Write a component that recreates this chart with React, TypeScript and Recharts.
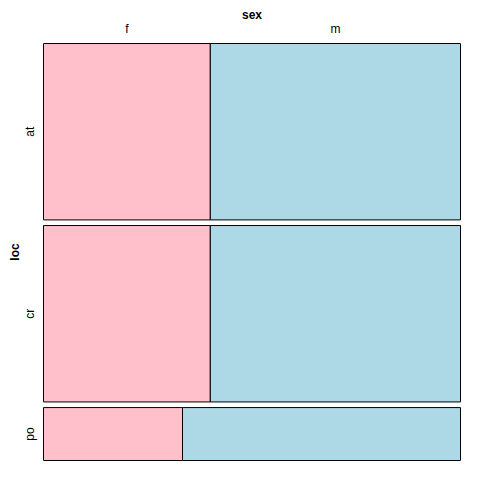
import { ComposedChart, XAxis, YAxis, ReferenceArea, Scatter } from "recharts";

// counts read from the mosaic: loc x sex
const locs = ["at", "cr", "po"];
const sexes = ["f", "m"];
const femaleCounts = [4, 4, 1];
const maleCounts = [6, 6, 2];
const sexColors = ["#FFC0CB", "#ADD8E6"];

const GAP = 0.0135; // spacing between loc rows, in plot fraction
const FONT = "'Liberation Sans', Arial, Helvetica, sans-serif";

type Cell = { key: string; x1: number; x2: number; y1: number; y2: number; fill: string; cx: number; cy: number };

const rowTotals = locs.map((_, i) => femaleCounts[i] + maleCounts[i]);
const grandTotal = rowTotals.reduce((a, b) => a + b, 0);
const usable = 1 - GAP * (locs.length - 1);

const cells: Cell[] = [];
const rowCenters: number[] = [];
let cursor = 0;
locs.forEach((loc, i) => {
  const h = (usable * rowTotals[i]) / grandTotal;
  const fShare = femaleCounts[i] / rowTotals[i];
  const cy = cursor + h / 2;
  cells.push({ key: `${loc}-f`, x1: 0, x2: fShare, y1: cursor, y2: cursor + h, fill: sexColors[0], cx: fShare / 2, cy });
  cells.push({ key: `${loc}-m`, x1: fShare, x2: 1, y1: cursor, y2: cursor + h, fill: sexColors[1], cx: (fShare + 1) / 2, cy });
  rowCenters.push(cy);
  cursor += h + GAP;
});

const firstShare = femaleCounts[0] / rowTotals[0];
const colCenters = [firstShare / 2, (firstShare + 1) / 2];

function SexTick(props: any) {
  const { x, y, index } = props;
  return (
    <text x={x} y={y - 14.5} textAnchor="middle" dominantBaseline="central" fontSize={12} fontFamily={FONT} fill="#000">
      {sexes[index]}
    </text>
  );
}

function LocTick(props: any) {
  const { x, y, index } = props;
  const tx = x - 13.5;
  return (
    <text
      x={tx}
      y={y}
      textAnchor="middle"
      dominantBaseline="central"
      fontSize={12}
      fontFamily={FONT}
      fill="#000"
      transform={`rotate(-90, ${tx}, ${y})`}
    >
      {locs[index]}
    </text>
  );
}

const NoShape = () => <g />;

export default function App() {
  return (
    <div style={{ position: "absolute", left: 0, top: 0, width: 504, height: 504, background: "#fff" }}>
      <ComposedChart width={504} height={504} margin={{ top: 0, right: 43.5, bottom: 43.5, left: 0 }}>
        <XAxis
          xAxisId="x"
          dataKey="cx"
          type="number"
          orientation="top"
          domain={[0, 1]}
          allowDataOverflow
          ticks={colCenters}
          height={43.5}
          axisLine={false}
          tickLine={false}
          tickSize={0}
          tickMargin={0}
          interval={0}
          tick={<SexTick />}
          label={(p: any) => {
            const vb = p.viewBox || {};
            return (
              <text x={vb.x + vb.width / 2} y={15} textAnchor="middle" dominantBaseline="central" fontSize={12} fontWeight="bold" fontFamily={FONT} fill="#000">
                sex
              </text>
            );
          }}
        />
        <YAxis
          yAxisId="y"
          dataKey="cy"
          type="number"
          domain={[0, 1]}
          allowDataOverflow
          reversed
          ticks={rowCenters}
          width={43.5}
          axisLine={false}
          tickLine={false}
          tickSize={0}
          tickMargin={0}
          interval={0}
          tick={<LocTick />}
          label={(p: any) => {
            const vb = p.viewBox || {};
            const cy = vb.y + vb.height / 2;
            return (
              <text x={15} y={cy} textAnchor="middle" dominantBaseline="central" fontSize={12} fontWeight="bold" fontFamily={FONT} fill="#000" transform={`rotate(-90, 15, ${cy})`}>
                loc
              </text>
            );
          }}
        />
        <Scatter xAxisId="x" yAxisId="y" data={cells} dataKey="cy" shape={NoShape} isAnimationActive={false} />
        {cells.map((c) => (
          <ReferenceArea
            key={c.key}
            xAxisId="x"
            yAxisId="y"
            x1={c.x1}
            x2={c.x2}
            y1={c.y1}
            y2={c.y2}
            fill={c.fill}
            fillOpacity={1}
            stroke="#000"
            strokeWidth={1}
            ifOverflow="visible"
          />
        ))}
      </ComposedChart>
    </div>
  );
}
